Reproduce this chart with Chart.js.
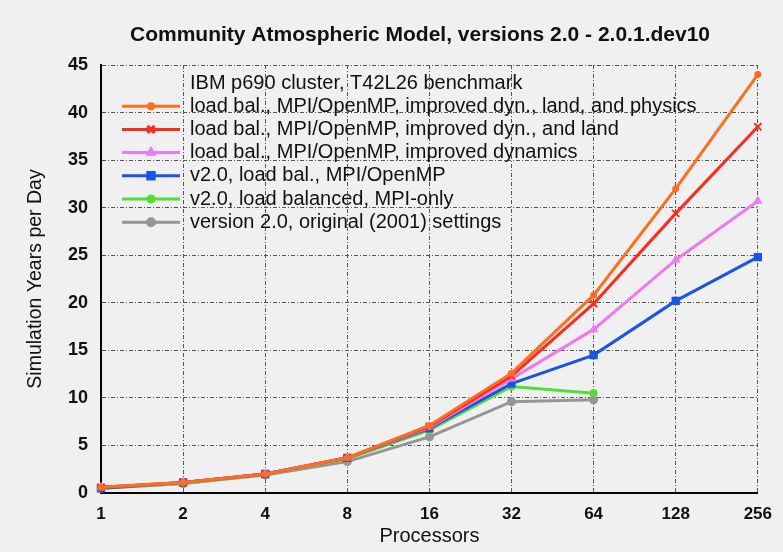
<!DOCTYPE html>
<html><head><meta charset="utf-8">
<script src="https://cdn.jsdelivr.net/npm/chart.js@4"></script>
<style>html,body{margin:0;padding:0;background:#f0f0f0;}#wrap{width:783px;height:552px;}</style>
</head><body><div id="wrap"><canvas id="c" width="783" height="552"></canvas></div>
<script>
const chartTitle = 'Community Atmospheric Model, versions 2.0 - 2.0.1.dev10';
const processors = ['1','2','4','8','16','32','64','128','256'];
const yTicks = [0,5,10,15,20,25,30,35,40,45];
const legendHeader = 'IBM p690 cluster, T42L26 benchmark';
const seriesNames = [
  'load bal., MPI/OpenMP, improved dyn., land, and physics',
  'load bal., MPI/OpenMP, improved dyn., and land',
  'load bal., MPI/OpenMP, improved dynamics',
  'v2.0, load bal., MPI/OpenMP',
  'v2.0, load balanced, MPI-only',
  'version 2.0, original (2001) settings'
];
const physics = [0.6, 1.1, 2.0, 3.7, 7.1, 12.6, 20.8, 32.0, 44.0];
const dynLand = [0.6, 1.1, 2.0, 3.7, 7.0, 12.3, 19.9, 29.4, 38.5];
const dynamics = [0.6, 1.1, 2.0, 3.7, 6.9, 12.0, 17.2, 24.5, 30.7];
const v20lb = [0.5, 1.1, 2.0, 3.7, 6.8, 11.5, 14.5, 20.2, 24.8];
const mpiOnly = [0.5, 1.0, 2.0, 3.6, 6.6, 11.2, 10.5, null, null];
const original = [0.5, 1.0, 1.9, 3.3, 5.9, 9.6, 9.8, null, null];

const colors = ['#ff6d1f','#ff2a1c','#ee7bee','#1a55e8','#4ee034','#959595'];
const styles = ['circle','crossRot','triangle','rect','circle','circle'];
const radii = [2.5,5,3.5,4.5,3,3.5];
const allData = [physics, dynLand, dynamics, v20lb, mpiOnly, original];

const datasets = allData.map((d,i)=>({
  label: seriesNames[i], data: d, borderColor: colors[i], backgroundColor: colors[i],
  borderWidth: 3, pointStyle: styles[i], pointRadius: radii[i], pointBorderWidth: 2,
  tension: 0, spanGaps: false
}));

const FONT = '"Liberation Sans", Arial, sans-serif';

const legendPlugin = {
  id: 'insideLegend',
  afterDraw(chart) {
    const ctx = chart.ctx;
    ctx.save();
    ctx.textBaseline = 'middle';
    ctx.textAlign = 'center';
    ctx.font = 'bold 21px ' + FONT;
    ctx.fillStyle = '#111';
    ctx.fillText(chartTitle, 420, 35);
    ctx.textAlign = 'left';
    ctx.font = '20px ' + FONT;
    const x0 = 122, x1 = 180, tx = 190, y0 = 83, dy = 23.2;
    ctx.fillText(legendHeader, tx, y0);
    chart.data.datasets.forEach((ds, i) => {
      const y = y0 + dy * (i + 1);
      ctx.strokeStyle = ds.borderColor; ctx.lineWidth = 3;
      ctx.beginPath(); ctx.moveTo(x0, y); ctx.lineTo(x1, y); ctx.stroke();
      Chart.helpers.drawPoint(ctx, {pointStyle: ds.pointStyle, radius: ds.pointRadius, borderWidth: 2}, (x0+x1)/2, y);
      ctx.fillStyle = ds.borderColor; ctx.fill();
      ctx.fillStyle = '#111';
      ctx.fillText(ds.label, tx, y);
    });
    ctx.restore();
  }
};

const bgPlugin = {
  id: 'bg',
  beforeDraw(chart){ const c=chart.ctx; c.save(); c.fillStyle='#f0f0f0'; c.fillRect(0,0,chart.width,chart.height); c.restore(); }
};

new Chart(document.getElementById('c'), {
  type: 'line',
  data: { labels: processors, datasets },
  plugins: [bgPlugin, legendPlugin],
  options: {
    responsive: false, animation: false,
    layout: { padding: { left: 0, right: 20, top: 65, bottom: 0 } },
    plugins: {
      legend: { display: false },
      tooltip: { enabled: false },
      title: { display: false }
    },
    scales: {
      x: {
        type: 'category', offset: false,
        grid: { color: '#555', lineWidth: 1, drawTicks: false },
        border: { display: true, color: '#000', width: 2, dash: [4,2,1,2] },
        ticks: { font: { family: FONT, size: 17, weight: 'bold' }, color: '#111', padding: 11, maxRotation: 0 },
        title: { display: true, text: 'Processors', font: { family: FONT, size: 20 }, color: '#111', padding: { top: 2 } },
        afterFit(s){ s.height = 59; }
      },
      y: {
        min: 0, max: 45,
        afterBuildTicks(s){ s.ticks = yTicks.map(v=>({value:v})); },
        grid: { color: '#555', lineWidth: 1, drawTicks: false },
        border: { display: true, color: '#000', width: 2, dash: [4,2,1,2] },
        ticks: { font: { family: FONT, size: 18, weight: 'bold' }, color: '#111', padding: 13 },
        title: { display: true, text: 'Simulation Years per Day', font: { family: FONT, size: 19.5 }, color: '#111', padding: { top: 24, bottom: 4 } },
        afterFit(s){ s.width = 101; }
      }
    }
  }
});
</script></body></html>
